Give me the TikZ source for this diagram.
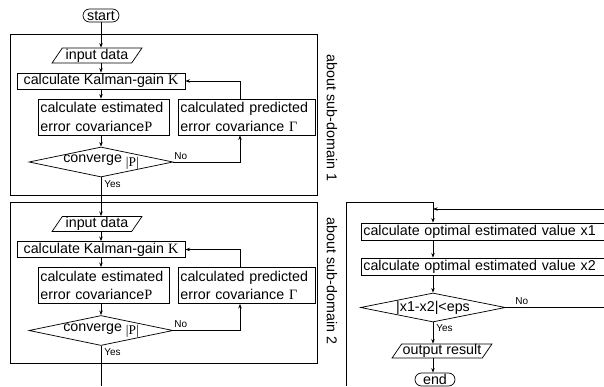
\documentclass[tikz,border=0pt]{standalone}
\usepackage{fontspec}
\setmainfont{Liberation Sans}
\newfontfamily\serf{Liberation Serif}
\usetikzlibrary{shapes.geometric,arrows.meta,calc}
\hyphenpenalty=10000\relax
\tikzset{
  sz/.style 2 args={minimum width=#1*0.75pt, minimum height=#2*0.75pt},
  box/.style={draw, rectangle},
  twol/.style={draw, rectangle, align=left, inner xsep=1.8pt, text width=#1*0.75pt-3.6pt},
  io/.style={draw, trapezium, trapezium left angle=55, trapezium right angle=125, trapezium stretches=true},
  term/.style={draw, rectangle, rounded corners=4.8pt},
  dec/.style={draw, diamond, aspect=4.8},
  yn/.style={font=\fontsize{7.5}{8}\selectfont},
  side/.style={rotate=-90}
}
\begin{document}
\begin{tikzpicture}[x=0.75pt,y=-0.75pt, line width=0.55pt,
  >={Stealth[length=3.5pt,width=2.6pt]},
  every node/.style={font=\fontsize{10.7}{14}\selectfont, inner sep=0pt}]
\useasboundingbox (0,0) rectangle (604,386);
\clip (0,0) rectangle (604,386);

% ---------- frames ----------
\draw (10,34) rectangle (317,195);
\draw (10,202) rectangle (317,363);
\node[side] (lab1) at (332,118) {about sub-domain 1};
\node[side] (lab2) at (332,281) {about sub-domain 2};

% ---------- sub-domain 1 ----------
\node[term, sz={36}{13}] (st) at (101,15.5) {start};
\node[io, sz={90}{15}] (in1) at (97,55.5) {input data};
\node[box, sz={168}{16}] (k1) at (101,81) {calculate Kalman-gain {\serf K}};
\node[twol=131, sz={131}{36}] (e1) at (103.5,117) {calculate estimated\\error covariance{\serf P}};
\node[twol=137, sz={137}{36}] (p1) at (246.5,117) {calculated predicted\\error covariance {\serf Γ}};
\node[dec, sz={144}{30}] (d1) at (101,162) {converge \raisebox{-2.5pt}{\fontsize{10}{10}\serf|P|}};
\node[yn, anchor=south west] (no1) at (174,159.5) {No};
\node[yn, anchor=west] (yes1) at (104,184) {Yes};

\draw[->] (st.south) -- (st.south |- in1.north);
\draw[->] (st.south |- in1.south) -- (st.south |- k1.north);
\draw[->] (st.south |- k1.south) -- (st.south |- e1.north);
\draw[->] (st.south |- e1.south) -- (d1.north);
\draw[->] (d1.east) -| ($(p1.south)+(-6.5,0)$);
\draw[->] ($(p1.north)+(-6.5,0)$) |- (k1.east);

% ---------- sub-domain 2 ----------
\node[io, sz={90}{15}] (in2) at (97,224) {input data};
\node[box, sz={168}{16}] (k2) at (101,249.5) {calculate Kalman-gain {\serf K}};
\node[twol=131, sz={131}{36}] (e2) at (103.5,285.5) {calculate estimated\\error covariance{\serf P}};
\node[twol=137, sz={137}{36}] (p2) at (246.5,285.5) {calculated predicted\\error covariance {\serf Γ}};
\node[dec, sz={144}{30}] (d2) at (101,330.5) {converge \raisebox{-2.5pt}{\fontsize{10}{10}\serf|P|}};
\node[yn, anchor=south west] (no2) at (174,328) {No};
\node[yn, anchor=west] (yes2) at (104,352.5) {Yes};
\coordinate (bot) at (101,386);

\draw[->] (d1.south) -- (d1.south |- in2.north);
\draw[->] (d1.south |- in2.south) -- (d1.south |- k2.north);
\draw[->] (d1.south |- k2.south) -- (d1.south |- e2.north);
\draw[->] (d1.south |- e2.south) -- (d2.north);
\draw[->] (d2.east) -| ($(p2.south)+(-6.5,0)$);
\draw[->] ($(p2.north)+(-6.5,0)$) |- (k2.east);
\draw (d2.south) -- (bot);

% ---------- right part ----------
\coordinate (lb) at (346,386);
\coordinate (lt) at (346,202);
\coordinate (rt) at (433,202);
\coordinate (re) at (606,209);
\node[twol=245, sz={245}{17}] (x1) at (483.5,231.5) {calculate optimal estimated value x1};
\node[twol=245, sz={245}{17}] (x2) at (483.5,266.5) {calculate optimal estimated value x2};
\node[dec, sz={145}{29}] (d3) at (433,307.5) {|x1-x2|<eps};
\node[yn, anchor=south west] (no3) at (515,305) {No};
\node[yn, anchor=west] (yes3) at (436,328) {Yes};
\node[io, sz={100}{14}] (out) at (442,351) {output result};
\node[term, sz={40}{13}] (en) at (435,379.5) {end};

\draw[->] (lb) -- (lt) -- (rt) -- (rt |- x1.north);
\draw[->] (re) -- (re -| rt);
\draw[->] (rt |- x1.south) -- (rt |- x2.north);
\draw[->] (rt |- x2.south) -- (d3.north);
\draw (d3.east) -- (d3.east -| re);
\draw[->] (d3.south) -- (d3.south |- out.north);
\draw[->] (d3.south |- out.south) -- (d3.south |- en.north);
\end{tikzpicture}
\end{document}
